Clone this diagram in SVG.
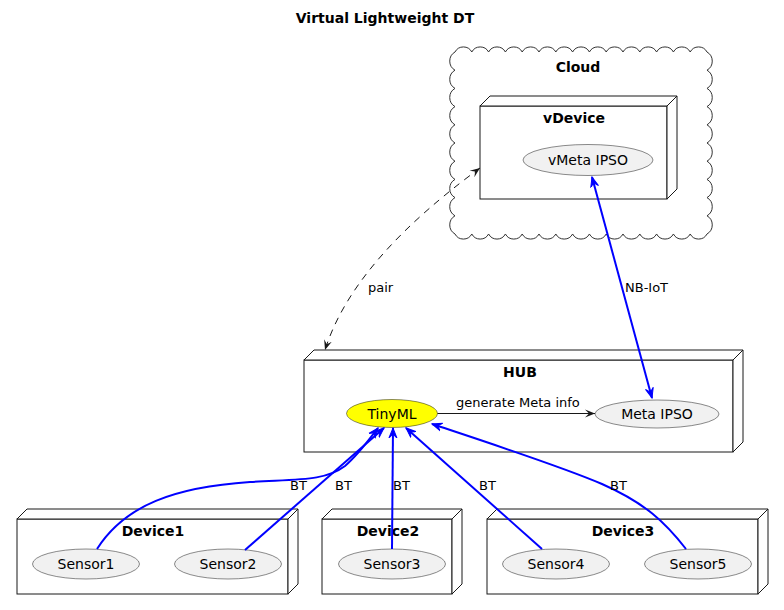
<svg xmlns="http://www.w3.org/2000/svg" width="784" height="610" viewBox="0 0 784 610">
<style>
text{font-family:"DejaVu Sans","Liberation Sans",sans-serif;fill:#000}
.title{font-size:14px;font-weight:bold;text-anchor:middle}
.nlab{font-size:14px;font-weight:bold;text-anchor:middle}
.ulab{font-size:14px;text-anchor:middle}
.elab{font-size:13px}
.box{fill:#fff;stroke:#181818;stroke-width:1}
.uc{fill:#F1F1F1;stroke:#181818;stroke-width:0.5}
.blue{fill:none;stroke:#0000FF;stroke-width:2}
.blk{fill:none;stroke:#181818;stroke-width:1}
.dash{fill:none;stroke:#181818;stroke-width:1;stroke-dasharray:7,6}
</style>
<defs>
<marker id="ab" markerUnits="userSpaceOnUse" markerWidth="12" markerHeight="10" refX="10" refY="5" orient="auto-start-reverse" viewBox="0 0 12 10">
<path d="M0,1 L10,5 L0,9 L4,5 Z" fill="#0000FF" stroke="#0000FF" stroke-width="1"/>
</marker>
<marker id="ak" markerUnits="userSpaceOnUse" markerWidth="12" markerHeight="10" refX="10" refY="5" orient="auto-start-reverse" viewBox="0 0 12 10">
<path d="M0,1 L10,5 L0,9 L4,5 Z" fill="#181818" stroke="none"/>
</marker>
</defs>
<rect width="784" height="610" fill="#fff"/>
<text class="title" x="385" y="23">Virtual Lightweight DT</text>

<g id="cloud">
<path fill="#fff" stroke="#333" stroke-width="1" d="M455,52 a9.5,9.5 0 0 1 16.8,0 a9.5,9.5 0 0 1 16.8,0 a9.5,9.5 0 0 1 16.8,0 a9.5,9.5 0 0 1 16.8,0 a9.5,9.5 0 0 1 16.8,0 a9.5,9.5 0 0 1 16.8,0 a9.5,9.5 0 0 1 16.8,0 a9.5,9.5 0 0 1 16.8,0 a9.5,9.5 0 0 1 16.8,0 a9.5,9.5 0 0 1 16.8,0 a9.5,9.5 0 0 1 16.8,0 a9.5,9.5 0 0 1 16.8,0 a9.5,9.5 0 0 1 16.8,0 a9.5,9.5 0 0 1 16.8,0 a9.5,9.5 0 0 1 16.8,0 a10.5,10.5 0 0 1 0,18.2 a10.5,10.5 0 0 1 0,18.2 a10.5,10.5 0 0 1 0,18.2 a10.5,10.5 0 0 1 0,18.2 a10.5,10.5 0 0 1 0,18.2 a10.5,10.5 0 0 1 0,18.2 a10.5,10.5 0 0 1 0,18.2 a10.5,10.5 0 0 1 0,18.2 a10.5,10.5 0 0 1 0,18.2 a10.5,10.5 0 0 1 0,18.2 a9.5,9.5 0 0 1 -16.8,0 a9.5,9.5 0 0 1 -16.8,0 a9.5,9.5 0 0 1 -16.8,0 a9.5,9.5 0 0 1 -16.8,0 a9.5,9.5 0 0 1 -16.8,0 a9.5,9.5 0 0 1 -16.8,0 a9.5,9.5 0 0 1 -16.8,0 a9.5,9.5 0 0 1 -16.8,0 a9.5,9.5 0 0 1 -16.8,0 a9.5,9.5 0 0 1 -16.8,0 a9.5,9.5 0 0 1 -16.8,0 a9.5,9.5 0 0 1 -16.8,0 a9.5,9.5 0 0 1 -16.8,0 a9.5,9.5 0 0 1 -16.8,0 a9.5,9.5 0 0 1 -16.8,0 a10.5,10.5 0 0 1 0,-18.2 a10.5,10.5 0 0 1 0,-18.2 a10.5,10.5 0 0 1 0,-18.2 a10.5,10.5 0 0 1 0,-18.2 a10.5,10.5 0 0 1 0,-18.2 a10.5,10.5 0 0 1 0,-18.2 a10.5,10.5 0 0 1 0,-18.2 a10.5,10.5 0 0 1 0,-18.2 a10.5,10.5 0 0 1 0,-18.2 a10.5,10.5 0 0 1 0,-18.2 Z"/>
<text class="nlab" x="578" y="72">Cloud</text>
</g>

<g id="vDevice">
<rect class="box" x="480" y="106" width="187" height="93"/>
<path class="box" d="M480,106 L490,96 L677,96 L667,106 Z"/>
<path class="box" d="M667,106 L677,96 L677,189 L667,199 Z"/>
<text class="nlab" x="574" y="123">vDevice</text>
</g>
<g id="vMetaIPSO">
<ellipse class="uc" cx="588" cy="160" rx="65" ry="15.5"/>
<text class="ulab" x="588" y="165">vMeta IPSO</text>
</g>

<g id="HUB">
<rect class="box" x="304" y="360" width="429" height="92"/>
<path class="box" d="M304,360 L314,350 L743,350 L733,360 Z"/>
<path class="box" d="M733,360 L743,350 L743,442 L733,452 Z"/>
<text class="nlab" x="520" y="377">HUB</text>
</g>
<g id="TinyML">
<ellipse cx="392" cy="413.5" rx="45.5" ry="14" fill="#FFFF00" stroke="#181818" stroke-width="0.5"/>
<text class="ulab" x="392" y="418.5">TinyML</text>
</g>
<g id="MetaIPSO">
<ellipse class="uc" cx="657" cy="414" rx="62" ry="14"/>
<text class="ulab" x="657" y="419">Meta IPSO</text>
</g>

<g id="Device1">
<rect class="box" x="17" y="519" width="271" height="75"/>
<path class="box" d="M17,519 L27,509 L298,509 L288,519 Z"/>
<path class="box" d="M288,519 L298,509 L298,584 L288,594 Z"/>
<text class="nlab" x="153" y="536">Device1</text>
</g>
<g id="Sensor1">
<ellipse class="uc" cx="86" cy="564" rx="53.5" ry="15"/>
<text class="ulab" x="86" y="569">Sensor1</text>
</g>
<g id="Sensor2">
<ellipse class="uc" cx="228" cy="564" rx="53.5" ry="15"/>
<text class="ulab" x="228" y="569">Sensor2</text>
</g>

<g id="Device2">
<rect class="box" x="322" y="519" width="130" height="75"/>
<path class="box" d="M322,519 L332,509 L462,509 L452,519 Z"/>
<path class="box" d="M452,519 L462,509 L462,584 L452,594 Z"/>
<text class="nlab" x="388" y="536">Device2</text>
</g>
<g id="Sensor3">
<ellipse class="uc" cx="392" cy="564" rx="53.5" ry="15"/>
<text class="ulab" x="392" y="569">Sensor3</text>
</g>

<g id="Device3">
<rect class="box" x="487" y="519" width="271" height="75"/>
<path class="box" d="M487,519 L497,509 L768,509 L758,519 Z"/>
<path class="box" d="M758,519 L768,509 L768,584 L758,594 Z"/>
<text class="nlab" x="623" y="536">Device3</text>
</g>
<g id="Sensor4">
<ellipse class="uc" cx="556" cy="564" rx="53.5" ry="15"/>
<text class="ulab" x="556" y="569">Sensor4</text>
</g>
<g id="Sensor5">
<ellipse class="uc" cx="698" cy="564" rx="53.5" ry="15"/>
<text class="ulab" x="698" y="569">Sensor5</text>
</g>

<g id="connectors">
<path class="dash" d="M480,168 C430,205 350,270 325,350" marker-start="url(#ak)" marker-end="url(#ak)"/>
<text class="elab" x="368" y="292">pair</text>
<path class="blue" d="M592,177 L652,398" marker-start="url(#ab)" marker-end="url(#ab)"/>
<text class="elab" x="625" y="292">NB-IoT</text>
<path class="blk" d="M437.5,413.5 L595,413.5" marker-end="url(#ak)"/>
<text class="elab" x="456" y="407">generate Meta info</text>
<path class="blue" d="M97,549 C125,505 175,487 250,482 C300,479 325,481 345,466 C358,455 368,441 378,428" marker-end="url(#ab)"/>
<text class="elab" x="290" y="490">BT</text>
<path class="blue" d="M245,550 L384,428" marker-end="url(#ab)"/>
<text class="elab" x="335" y="490">BT</text>
<path class="blue" d="M392,549 L393,428" marker-end="url(#ab)"/>
<text class="elab" x="393" y="490">BT</text>
<path class="blue" d="M542,549 L406,428" marker-end="url(#ab)"/>
<text class="elab" x="479" y="490">BT</text>
<path class="blue" d="M686,549 C665,522 645,503 602,484 C560,466 480,440 432,424" marker-end="url(#ab)"/>
<text class="elab" x="610" y="490">BT</text>
</g>
</svg>
